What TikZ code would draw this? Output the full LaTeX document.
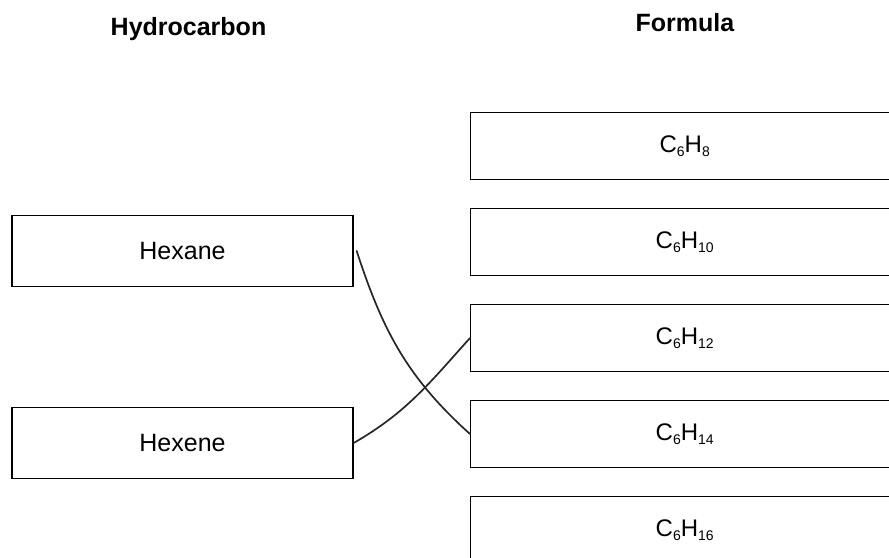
\documentclass[tikz,border=0pt]{standalone}
\usepackage{fontspec}
\setmainfont{Liberation Sans}
\usetikzlibrary{positioning}
\newcommand{\sub}[1]{\raisebox{-3.5pt}{\fontsize{14}{14}\selectfont #1}}

\begin{document}
\begin{tikzpicture}[x=1pt,y=-1pt,
    box/.style={draw, line width=1.4pt, minimum height=71pt, font=\fontsize{25}{27}\selectfont},
    leftbox/.style={box, minimum width=341pt},
    formbox/.style={box, minimum height=67pt, minimum width=428pt, anchor=west, font=\fontsize{24}{26}\selectfont},
    heading/.style={font=\fontsize{25}{27}\selectfont\bfseries},
    match/.style={line width=1.7pt, draw=black!85, line cap=round}]
    \useasboundingbox (0,0) rectangle (889,557);
    \node[heading] (hydro) at (188.5,29) {Hydrocarbon};
    \node[heading] (form) at (685,23) {Formula};
    \node[leftbox] (hexane) at (182.5,251) {Hexane};
    \node[leftbox] (hexene) at (182.5,443) {Hexene};
    \node[formbox] (c8) at (470,146) {C\sub{6}H\sub{8}};
    \node[formbox] (c10) at (470,242) {C\sub{6}H\sub{10}};
    \node[formbox] (c12) at (470,338) {C\sub{6}H\sub{12}};
    \node[formbox] (c14) at (470,434) {C\sub{6}H\sub{14}};
    \node[formbox] (c16) at (470,530) {C\sub{6}H\sub{16}};
    \draw[match] ([xshift=3pt]hexane.east) to[out=-72,in=138] (c14.west);
    \draw[match] (hexene.east) to[out=30,in=-132] (c12.west);
\end{tikzpicture}
\end{document}
